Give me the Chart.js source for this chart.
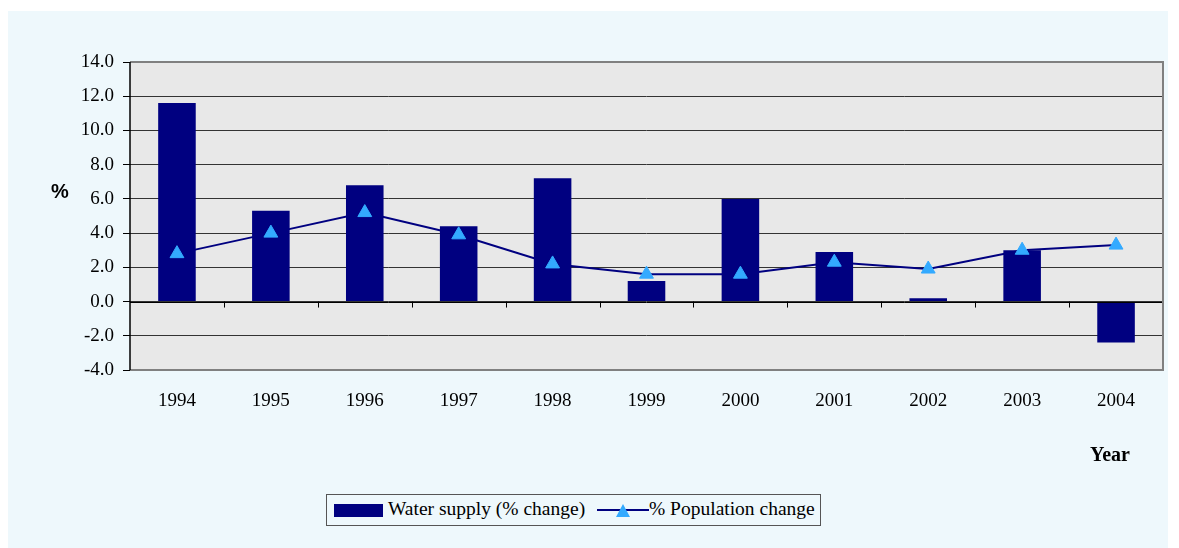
<!DOCTYPE html>
<html>
<head>
<meta charset="utf-8">
<script src="https://cdn.jsdelivr.net/npm/chart.js@4"></script>
<style>
    html, body { margin: 0; padding: 0; background: #ffffff; }
    #wrap { position: relative; width: 1179px; height: 548px; }
    #chart { position: absolute; left: 0; top: 0; }
    .lbl { position: absolute; color: #000; }
    #yTitle { left: 51px; top: 180px; font: bold 20px "Liberation Sans", Arial, sans-serif; }
    #xTitle { left: 1090px; top: 443px; font: bold 20px "Liberation Serif", "Times New Roman", serif; }
    #legend {
        position: absolute; left: 326px; top: 494px; width: 493px; height: 30px;
        border: 1px solid #555; background: #eef8fc;
        font: 19.5px "Liberation Serif", "Times New Roman", serif; line-height: 20px; color: #000;
    }
    .legend-item { position: absolute; top: 4px; white-space: nowrap; }
    .sw-bar { position: absolute; left: 7px; top: 9px; width: 49px; height: 13px; background: #000080; }
    .sw-line { position: absolute; left: 270px; top: 14px; width: 52px; height: 2px; background: #000080; }
    .sw-tri {
        position: absolute; left: 289px; top: 9px; width: 0; height: 0;
        border-left: 7.5px solid transparent; border-right: 7.5px solid transparent;
        border-bottom: 13px solid #33aaff;
    }
</style>
</head>
<body>
<div id="wrap">
    <canvas id="chart" width="1179" height="548"></canvas>
    <div id="yTitle" class="lbl">%</div>
    <div id="xTitle" class="lbl">Year</div>
    <div id="legend">
        <div class="sw-bar"></div>
        <div class="legend-item" id="lgBar" style="left:61px"></div>
        <div class="sw-line"></div>
        <div class="sw-tri"></div>
        <div class="legend-item" id="lgLine" style="left:322px"></div>
    </div>
</div>
<script>
// chart data
const years = ['1994', '1995', '1996', '1997', '1998', '1999', '2000', '2001', '2002', '2003', '2004'];
const waterSupply = [11.6, 5.3, 6.8, 4.4, 7.2, 1.2, 6.0, 2.9, 0.2, 3.0, -2.4];
const populationChange = [2.8, 4.0, 5.2, 3.9, 2.2, 1.6, 1.6, 2.3, 1.9, 3.0, 3.3];
const barLabel = 'Water supply (% change)';
const lineLabel = '% Population change';
const yMin = -4;
const yMax = 14;
const yStep = 2;

document.getElementById('lgBar').textContent = barLabel;
document.getElementById('lgLine').textContent = lineLabel;

const PANEL_BG = '#eef8fc';
const PLOT_BG = '#e8e8e8';
const SERIF = '"Liberation Serif", "Times New Roman", serif';

// panel + plot background, frame, and category ticks on the zero line
const framePlugin = {
    id: 'frame',
    beforeDraw(chart) {
        const ctx = chart.ctx;
        const a = chart.chartArea;
        ctx.save();
        ctx.fillStyle = PANEL_BG;
        ctx.fillRect(8, 11, 1160, 537);
        ctx.fillStyle = PLOT_BG;
        ctx.fillRect(a.left, a.top, a.right - a.left, a.bottom - a.top);
        ctx.restore();
    },
    afterDatasetsDraw(chart) {
        const ctx = chart.ctx;
        const a = chart.chartArea;
        const y0 = chart.scales.y.getPixelForValue(0);
        ctx.save();
        // zero axis line
        ctx.strokeStyle = '#000';
        ctx.lineWidth = 1;
        ctx.beginPath();
        ctx.moveTo(a.left, Math.round(y0) + 0.5);
        ctx.lineTo(a.right, Math.round(y0) + 0.5);
        ctx.stroke();
        // category boundary ticks
        const step = (a.right - a.left) / years.length;
        for (let i = 1; i <= years.length; i++) {
            const x = Math.round(a.left + i * step) + 0.5;
            ctx.beginPath();
            ctx.moveTo(x, y0);
            ctx.lineTo(x, y0 + 6);
            ctx.stroke();
        }
        // grey frame top/right/bottom
        ctx.strokeStyle = '#808080';
        ctx.lineWidth = 2;
        ctx.beginPath();
        ctx.moveTo(a.left, a.top);
        ctx.lineTo(a.right, a.top);
        ctx.lineTo(a.right, a.bottom);
        ctx.lineTo(a.left, a.bottom);
        ctx.stroke();
        // left axis
        ctx.strokeStyle = '#000';
        ctx.lineWidth = 1.5;
        ctx.beginPath();
        ctx.moveTo(a.left, a.top);
        ctx.lineTo(a.left, a.bottom);
        ctx.stroke();
        ctx.restore();
    }
};

new Chart(document.getElementById('chart'), {
    type: 'bar',
    data: {
        labels: years,
        datasets: [{
            type: 'line',
            label: lineLabel,
            data: populationChange,
            borderColor: '#000080',
            borderWidth: 2,
            tension: 0,
            pointStyle: 'triangle',
            pointRadius: 8,
            pointBackgroundColor: '#33aaff',
            pointBorderColor: '#33aaff',
            pointBorderWidth: 1,
            order: 0
        }, {
            type: 'bar',
            label: barLabel,
            data: waterSupply,
            backgroundColor: '#000080',
            borderWidth: 0,
            barPercentage: 0.4,
            categoryPercentage: 1.0,
            order: 1
        }]
    },
    options: {
        responsive: false,
        animation: false,
        devicePixelRatio: 1,
        layout: {
            padding: { left: 0, right: 16, top: 62, bottom: 0 }
        },
        plugins: {
            legend: { display: false },
            tooltip: { enabled: false }
        },
        scales: {
            x: {
                grid: { display: false },
                border: { display: false },
                ticks: {
                    color: '#000',
                    padding: 12,
                    maxRotation: 0,
                    font: { family: SERIF, size: 19 }
                },
                afterFit(scale) { scale.height = 178; }
            },
            y: {
                min: yMin,
                max: yMax,
                afterFit(scale) { scale.width = 130; },
                grid: {
                    color: ctx => (ctx.tick && (ctx.tick.value === yMax || ctx.tick.value === yMin)) ? 'rgba(0,0,0,0)' : '#333333',
                    lineWidth: 1,
                    tickLength: 7,
                    tickColor: '#000'
                },
                border: { display: false },
                ticks: {
                    stepSize: yStep,
                    color: '#000',
                    padding: 9,
                    font: { family: SERIF, size: 19 },
                    callback: v => v.toFixed(1)
                }
            }
        }
    },
    plugins: [framePlugin]
});
</script>
</body>
</html>
